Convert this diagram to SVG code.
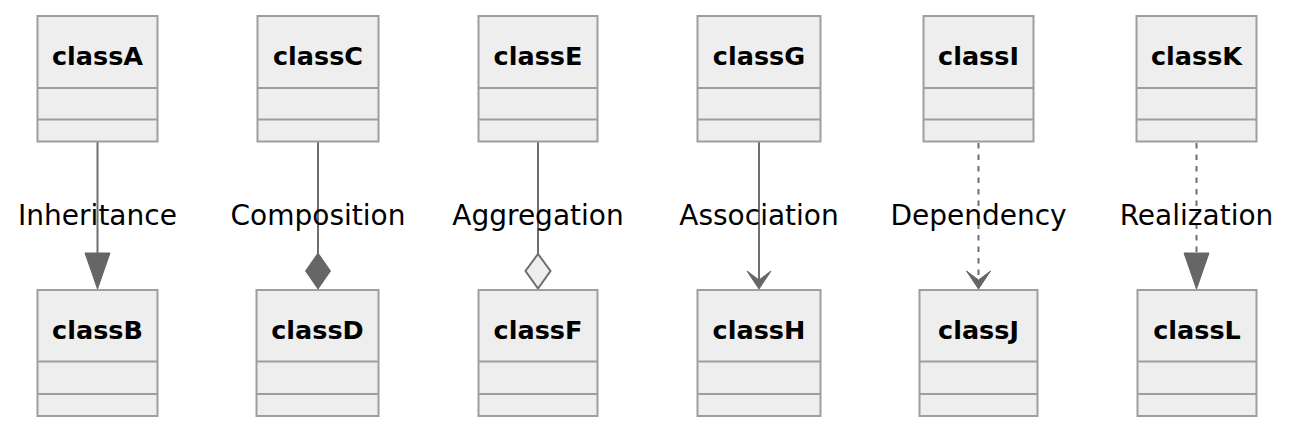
<svg xmlns="http://www.w3.org/2000/svg" width="1292" height="432" viewBox="0 0 1292 432">
<style>
.box{fill:#eeeeee;stroke:#9e9e9e;stroke-width:2}
.div{stroke:#9e9e9e;stroke-width:2}
.name{font-family:"DejaVu Sans",Verdana,sans-serif;font-weight:bold;font-size:25.5px;fill:#000;text-anchor:middle}
.lbl{font-family:"DejaVu Sans",Verdana,sans-serif;font-size:28px;fill:#000;text-anchor:middle}
.ln{stroke:#6e6e6e;stroke-width:2;fill:none}
.dash{stroke-dasharray:5.5 6}
.head{fill:#666666;stroke:#666666;stroke-width:1}
.open{fill:#eeeeee;stroke:#6e6e6e;stroke-width:2}
.chev{fill:#666666;stroke:#666666;stroke-width:1;stroke-linejoin:miter}
</style>
<rect width="1292" height="432" fill="#ffffff"/>
<g id="connectors">
<line class="ln" x1="97.5" y1="142" x2="97.5" y2="254"/>
<polygon class="head" points="85,253 110,253 97.5,289"/>
<line class="ln" x1="318" y1="142" x2="318" y2="254"/>
<polygon class="head" points="318,253 330.5,271 318,289 305.5,271"/>
<line class="ln" x1="538" y1="142" x2="538" y2="254"/>
<polygon class="open" points="538,254 550.5,271 538,288.5 525.5,271"/>
<line class="ln" x1="759" y1="142" x2="759" y2="281"/>
<polygon class="chev" points="747,271 759,289 771,271 759,280"/>
<line class="ln dash" x1="978.5" y1="143" x2="978.5" y2="281"/>
<polygon class="chev" points="966.5,271 978.5,289 990.5,271 978.5,280"/>
<line class="ln dash" x1="1196.5" y1="143" x2="1196.5" y2="254"/>
<polygon class="head" points="1184,253 1209,253 1196.5,289"/>
<text class="lbl" x="97.5" y="225">Inheritance</text>
<text class="lbl" x="318" y="225">Composition</text>
<text class="lbl" x="538" y="225">Aggregation</text>
<text class="lbl" x="759" y="225">Association</text>
<text class="lbl" x="978.5" y="225">Dependency</text>
<text class="lbl" x="1196.5" y="225">Realization</text>
</g>
<g id="classA"><rect class="box" x="37.5" y="16" width="120" height="125.5"/><line class="div" x1="37.5" y1="88" x2="157.5" y2="88"/><line class="div" x1="37.5" y1="119.5" x2="157.5" y2="119.5"/><text class="name" x="97.5" y="64.5">classA</text></g>
<g id="classC"><rect class="box" x="257.5" y="16" width="121" height="125.5"/><line class="div" x1="257.5" y1="88" x2="378.5" y2="88"/><line class="div" x1="257.5" y1="119.5" x2="378.5" y2="119.5"/><text class="name" x="318" y="64.5">classC</text></g>
<g id="classE"><rect class="box" x="478.5" y="16" width="119" height="125.5"/><line class="div" x1="478.5" y1="88" x2="597.5" y2="88"/><line class="div" x1="478.5" y1="119.5" x2="597.5" y2="119.5"/><text class="name" x="538" y="64.5">classE</text></g>
<g id="classG"><rect class="box" x="697.5" y="16" width="123" height="125.5"/><line class="div" x1="697.5" y1="88" x2="820.5" y2="88"/><line class="div" x1="697.5" y1="119.5" x2="820.5" y2="119.5"/><text class="name" x="759" y="64.5">classG</text></g>
<g id="classI"><rect class="box" x="923.5" y="16" width="110" height="125.5"/><line class="div" x1="923.5" y1="88" x2="1033.5" y2="88"/><line class="div" x1="923.5" y1="119.5" x2="1033.5" y2="119.5"/><text class="name" x="978.5" y="64.5">classI</text></g>
<g id="classK"><rect class="box" x="1136.5" y="16" width="120" height="125.5"/><line class="div" x1="1136.5" y1="88" x2="1256.5" y2="88"/><line class="div" x1="1136.5" y1="119.5" x2="1256.5" y2="119.5"/><text class="name" x="1196.5" y="64.5">classK</text></g>
<g id="classB"><rect class="box" x="37.5" y="290" width="120" height="126"/><line class="div" x1="37.5" y1="361.5" x2="157.5" y2="361.5"/><line class="div" x1="37.5" y1="394" x2="157.5" y2="394"/><text class="name" x="97.5" y="338.5">classB</text></g>
<g id="classD"><rect class="box" x="256.5" y="290" width="122" height="126"/><line class="div" x1="256.5" y1="361.5" x2="378.5" y2="361.5"/><line class="div" x1="256.5" y1="394" x2="378.5" y2="394"/><text class="name" x="317.5" y="338.5">classD</text></g>
<g id="classF"><rect class="box" x="478.5" y="290" width="119" height="126"/><line class="div" x1="478.5" y1="361.5" x2="597.5" y2="361.5"/><line class="div" x1="478.5" y1="394" x2="597.5" y2="394"/><text class="name" x="538" y="338.5">classF</text></g>
<g id="classH"><rect class="box" x="697.5" y="290" width="123" height="126"/><line class="div" x1="697.5" y1="361.5" x2="820.5" y2="361.5"/><line class="div" x1="697.5" y1="394" x2="820.5" y2="394"/><text class="name" x="759" y="338.5">classH</text></g>
<g id="classJ"><rect class="box" x="919.5" y="290" width="118" height="126"/><line class="div" x1="919.5" y1="361.5" x2="1037.5" y2="361.5"/><line class="div" x1="919.5" y1="394" x2="1037.5" y2="394"/><text class="name" x="978.5" y="338.5">classJ</text></g>
<g id="classL"><rect class="box" x="1137.5" y="290" width="119" height="126"/><line class="div" x1="1137.5" y1="361.5" x2="1256.5" y2="361.5"/><line class="div" x1="1137.5" y1="394" x2="1256.5" y2="394"/><text class="name" x="1197" y="338.5">classL</text></g>
</svg>
